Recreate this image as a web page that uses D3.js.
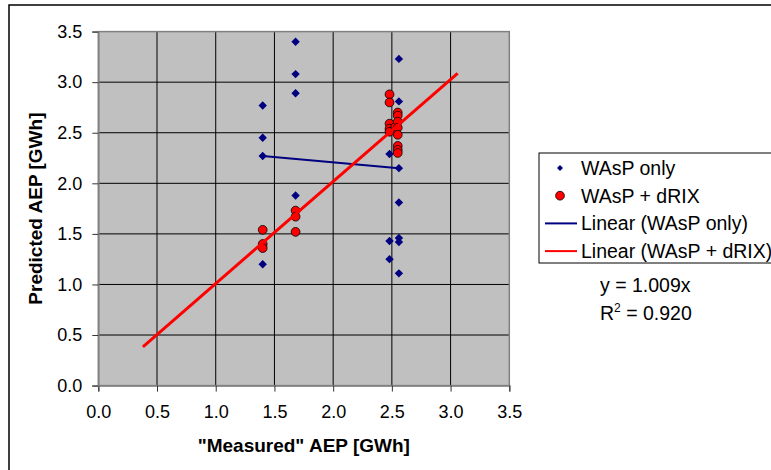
<!DOCTYPE html>
<html>
<head>
<meta charset="utf-8">
<script src="https://cdn.jsdelivr.net/npm/d3@7"></script>
<style>
  body { margin: 0; background: #fff; }
  svg { font-family: Arial, "Liberation Sans", sans-serif; }
  .tick text { font-size: 18px; fill: #000; }
</style>
</head>
<body>
<svg width="771" height="470"></svg>
<script>
// ticks
const xTicks = [0, 0.5, 1, 1.5, 2, 2.5, 3, 3.5]
const yTicks = [0, 0.5, 1, 1.5, 2, 2.5, 3, 3.5]

// WAsP only
const waspX = [1.40,1.40,1.40,1.40, 1.68,1.68,1.68,1.68, 2.48,2.48,2.48, 2.56,2.56,2.56,2.56,2.56,2.56,2.56]
const waspY = [2.77,2.45,2.27,1.20, 3.40,3.08,2.89,1.88, 2.29,1.43,1.25, 3.23,2.81,2.15,1.81,1.46,1.42,1.11]

// WAsP + dRIX
const drixX = [1.40,1.40,1.40, 1.68,1.68,1.68, 2.48,2.48,2.48,2.48,2.48, 2.53, 2.55,2.55,2.55,2.55,2.55,2.55,2.55,2.55]
const drixY = [1.54,1.40,1.36, 1.73,1.67,1.52, 2.88,2.80,2.59,2.54,2.51, 2.56, 2.70,2.67,2.61,2.55,2.48,2.37,2.33,2.30]

// trendlines
const waspTrendX = [1.40, 2.56]
const waspTrendY = [2.27, 2.15]
const drixSlope = 1.009
const drixTrendX = [0.38, 3.06]

const legendLabels = ['WAsP only', 'WAsP + dRIX', 'Linear (WAsP only)', 'Linear (WAsP + dRIX)']
const navy = '#000080', red = '#ff0000'

const svg = d3.select('svg'),
  plot = {left: 98.3, right: 509.3, top: 31.6, bottom: 385.6}

// chart border
svg.append('rect')
  .attr('x', 9).attr('y', 5)
  .attr('width', 800).attr('height', 480)
  .attr('fill', '#fff').attr('stroke', '#000').attr('stroke-width', 1.5)

const x = d3.scaleLinear().domain([0, 3.5]).range([plot.left, plot.right])
const y = d3.scaleLinear().domain([0, 3.5]).range([plot.bottom, plot.top])

svg.append('rect')
  .attr('x', plot.left).attr('y', plot.top)
  .attr('width', plot.right - plot.left).attr('height', plot.bottom - plot.top)
  .attr('fill', '#c0c0c0')

// gridlines
const grid = svg.append('g')
grid.selectAll('.gx').data(xTicks.slice(1, -1)).enter().append('line')
  .attr('x1', x).attr('x2', x)
  .attr('y1', plot.top).attr('y2', plot.bottom)
  .attr('stroke', '#000').attr('stroke-width', 1)
grid.selectAll('.gy').data(yTicks.slice(1, -1)).enter().append('line')
  .attr('y1', y).attr('y2', y)
  .attr('x1', plot.left).attr('x2', plot.right)
  .attr('stroke', '#000').attr('stroke-width', 1)

svg.append('rect')
  .attr('x', plot.left).attr('y', plot.top)
  .attr('width', plot.right - plot.left).attr('height', plot.bottom - plot.top)
  .attr('fill', 'none').attr('stroke', '#808080').attr('stroke-width', 1.5)

// axes
const fmt = d3.format('.1f')
const xAxis = svg.append('g')
  .attr('transform', `translate(0,${plot.bottom})`)
  .call(d3.axisBottom(x).tickValues(xTicks).tickFormat(fmt).tickSize(6).tickPadding(14))
const yAxis = svg.append('g')
  .attr('transform', `translate(${plot.left},0)`)
  .call(d3.axisLeft(y).tickValues(yTicks).tickFormat(fmt).tickSize(6).tickPadding(10))
;[xAxis, yAxis].forEach(a => {
  a.select('.domain').attr('stroke', '#808080').attr('stroke-width', 1.5)
  a.selectAll('.tick line').attr('stroke', '#333')
  a.attr('font-family', null).attr('font-size', null)
})

svg.append('text')
  .attr('x', (plot.left + plot.right) / 2).attr('y', 452)
  .attr('text-anchor', 'middle')
  .attr('font-size', 19).attr('font-weight', 'bold')
  .text('"Measured" AEP [GWh]')
svg.append('text')
  .attr('transform', `translate(42,${(plot.top + plot.bottom) / 2}) rotate(-90)`)
  .attr('text-anchor', 'middle')
  .attr('font-size', 19).attr('font-weight', 'bold')
  .text('Predicted AEP [GWh]')

// markers
const diamond = s => `M0,${-s}L${s},0L0,${s}L${-s},0Z`
const marks = svg.append('g')
marks.selectAll('.wasp').data(waspX).enter().append('path')
  .attr('class', 'wasp')
  .attr('d', diamond(4.2))
  .attr('transform', (d, i) => `translate(${x(d)},${y(waspY[i])})`)
  .attr('fill', navy)
marks.selectAll('.drix').data(drixX).enter().append('circle')
  .attr('class', 'drix')
  .attr('cx', d => x(d)).attr('cy', (d, i) => y(drixY[i]))
  .attr('r', 4.4)
  .attr('fill', red).attr('stroke', '#000').attr('stroke-width', 0.8)

// trendlines
const line = d3.line().x(d => x(d[0])).y(d => y(d[1]))
svg.append('path')
  .datum(waspTrendX.map((d, i) => [d, waspTrendY[i]]))
  .attr('d', line)
  .attr('fill', 'none').attr('stroke', navy).attr('stroke-width', 2)
svg.append('path')
  .datum(drixTrendX.map(d => [d, d * drixSlope]))
  .attr('d', line)
  .attr('fill', 'none').attr('stroke', red).attr('stroke-width', 3)

// legend
const legend = svg.append('g').attr('transform', 'translate(539,153)')
legend.append('rect')
  .attr('width', 260).attr('height', 110)
  .attr('fill', '#fff').attr('stroke', '#000').attr('stroke-width', 1)
const rows = legend.selectAll('.row').data(legendLabels).enter().append('g')
  .attr('transform', (d, i) => `translate(0,${15 + i * 27.7})`)
rows.append('text')
  .attr('x', 42).attr('dy', '0.35em')
  .attr('font-size', 19.5)
  .text(d => d)
rows.filter((d, i) => i == 0).append('path')
  .attr('d', diamond(3)).attr('transform', 'translate(21,0)').attr('fill', navy)
rows.filter((d, i) => i == 1).append('circle')
  .attr('cx', 21).attr('r', 4.4)
  .attr('fill', red).attr('stroke', '#000').attr('stroke-width', 0.8)
rows.filter((d, i) => i > 1).append('line')
  .attr('x1', 6).attr('x2', 38)
  .attr('stroke', (d, i) => i == 0 ? navy : red).attr('stroke-width', 2)

// equation
svg.append('text').attr('x', 600).attr('y', 292).attr('font-size', 19.5).text('y = 1.009x')
const r2 = svg.append('text').attr('x', 600).attr('y', 320).attr('font-size', 19.5)
r2.append('tspan').text('R')
r2.append('tspan').attr('dy', -8).attr('font-size', 12).text('2')
r2.append('tspan').attr('dy', 8).text(' = 0.920')
</script>
</body>
</html>
